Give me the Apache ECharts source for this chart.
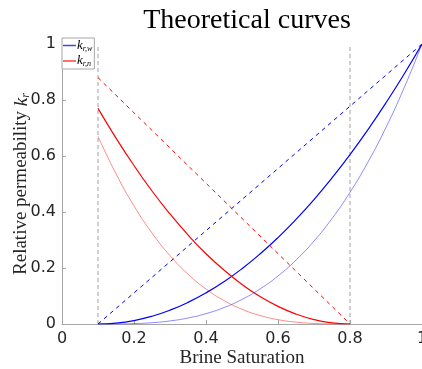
<!DOCTYPE html>
<html><head><meta charset="utf-8">
<script src="https://cdn.jsdelivr.net/npm/echarts@6/dist/echarts.min.js"></script>
<style>html,body{margin:0;padding:0;background:#fff}#c{width:422px;height:369px}</style>
</head><body><div id="c"></div>
<script>
// Brine saturation sample points
const swW = [0.1,0.15,0.2,0.25,0.3,0.35,0.4,0.45,0.5,0.55,0.6,0.65,0.7,0.75,0.8,0.85,0.9,0.95,1.0];
const krwSolid = [0,0.0031,0.0123,0.0278,0.0494,0.0772,0.1111,0.1512,0.1975,0.25,0.3086,0.3735,0.4444,0.5216,0.6049,0.6944,0.7901,0.892,1];
const krwFaint = [0,0.0002,0.0014,0.0046,0.011,0.0214,0.037,0.0588,0.0878,0.125,0.1715,0.2282,0.2963,0.3767,0.4705,0.5787,0.7023,0.8425,1];
const swN = [0.1,0.15,0.2,0.25,0.3,0.35,0.4,0.45,0.5,0.55,0.6,0.65,0.7,0.75,0.8];
const krnSolid = [0.77,0.664,0.566,0.475,0.393,0.318,0.251,0.1925,0.1414,0.0982,0.0629,0.0354,0.0157,0.0039,0];
const krnFaint = [0.67,0.5365,0.4219,0.325,0.2442,0.178,0.125,0.0838,0.0527,0.0305,0.0156,0.0066,0.002,0.0002,0];
const krwLinX = [0.1,1.0], krwLinY = [0,1];
const krnLinX = [0.1,0.8], krnLinY = [0.88,0];
const swc = 0.1, sor = 0.8; // vertical markers
const xTicks = [0,0.2,0.4,0.6,0.8,1];
const yTicks = [0,0.2,0.4,0.6,0.8,1];

const zip = (xs, ys) => xs.map((x,i)=>[x, ys[i]]);
const fmt = v => (v===0||v===1) ? String(v) : String(+v.toFixed(1));
const axisCol = '#a6a6a6', txt = '#262626';

const chart = echarts.init(document.getElementById('c'), null, {renderer:'canvas'});
chart.setOption({
  animation:false,
  title:{text:'Theoretical curves', left:242, top:2, textAlign:'center',
    textStyle:{fontFamily:'Liberation Serif', fontWeight:'normal', fontSize:28, color:'#000'}},
  legend:{orient:'vertical', left:62, top:38,
    data:[{name:'krw', icon:'rect', itemStyle:{color:'#4040ff', borderWidth:0}}, {name:'krn', icon:'rect', itemStyle:{color:'#ff4040', borderWidth:0}}],
    borderColor:'#a6a6a6', borderWidth:1, backgroundColor:'#fff', padding:[1,2,1,1],
    itemWidth:13, itemHeight:1.5, itemGap:2,
    formatter: n => n==='krw' ? '{k|k}{s|r,w}' : '{k|k}{s|r,n}',
    textStyle:{color:'#000', padding:[0,0,0,-4], rich:{
      k:{fontFamily:'Liberation Serif', fontStyle:'italic', fontSize:13},
      s:{fontFamily:'Liberation Serif', fontStyle:'italic', fontSize:8, verticalAlign:'bottom', padding:[6,0,0,0]}}}},
  grid:{left:62, right:0, top:44, bottom:45, containLabel:false, outerBoundsMode:'none'},
  xAxis:{type:'value', min:0, max:1, interval:0.2,
    name:'Brine Saturation', nameLocation:'middle', nameGap:25, nameMoveOverlap:false,
    nameTextStyle:{fontFamily:'Liberation Serif', fontSize:19, color:txt},
    axisLine:{lineStyle:{color:axisCol}}, axisTick:{inside:true, length:4, lineStyle:{color:axisCol}},
    axisLabel:{formatter:fmt, fontFamily:'DejaVu Sans', fontSize:16, color:txt, margin:7, showMaxLabel:true},
    splitLine:{show:false}},
  yAxis:{type:'value', min:0, max:1, interval:0.2,
    name:'{n|Relative permeability }{k|k}{s|r}', nameLocation:'middle', nameGap:30, nameMoveOverlap:false,
    nameTextStyle:{fontFamily:'Liberation Serif', fontSize:19, color:txt, rich:{
      n:{fontFamily:'Liberation Serif', fontSize:19, color:txt},
      k:{fontFamily:'Liberation Serif', fontStyle:'italic', fontSize:19, color:txt},
      s:{fontFamily:'Liberation Serif', fontStyle:'italic', fontSize:12, color:txt, verticalAlign:'bottom', padding:[9,0,0,0]}}},
    axisLine:{show:true, lineStyle:{color:axisCol}}, axisTick:{show:true, inside:true, length:4, lineStyle:{color:axisCol}},
    axisLabel:{formatter:fmt, fontFamily:'DejaVu Sans', fontSize:16, color:txt, margin:6},
    splitLine:{show:false}},
  series:[
    {type:'line', data:zip([swc,swc],[0,1]), symbol:'none', silent:true, lineStyle:{color:'#a0a0a0', width:1, type:[4,3]}},
    {type:'line', data:zip([sor,sor],[0,1]), symbol:'none', silent:true, lineStyle:{color:'#a0a0a0', width:1, type:[4,3]}},
    {name:'krw', type:'line', data:zip(swW,krwSolid), smooth:true, symbol:'none', lineStyle:{color:'#0000ff', width:1.2}, itemStyle:{color:'#0000ff'}},
    {name:'krn', type:'line', data:zip(swN,krnSolid), smooth:true, symbol:'none', lineStyle:{color:'#ff0000', width:1.2}, itemStyle:{color:'#ff0000'}},
    {type:'line', data:zip(swW,krwFaint), smooth:true, symbol:'none', lineStyle:{color:'#0000ff', width:1, opacity:0.45}},
    {type:'line', data:zip(swN,krnFaint), smooth:true, symbol:'none', lineStyle:{color:'#ff0000', width:1, opacity:0.45}},
    {type:'line', data:zip(krwLinX,krwLinY), symbol:'none', lineStyle:{color:'#0000ff', width:1, type:[4,4]}},
    {type:'line', data:zip(krnLinX,krnLinY), symbol:'none', lineStyle:{color:'#ff0000', width:1, type:[4,4]}}
  ]
});
</script></body></html>
